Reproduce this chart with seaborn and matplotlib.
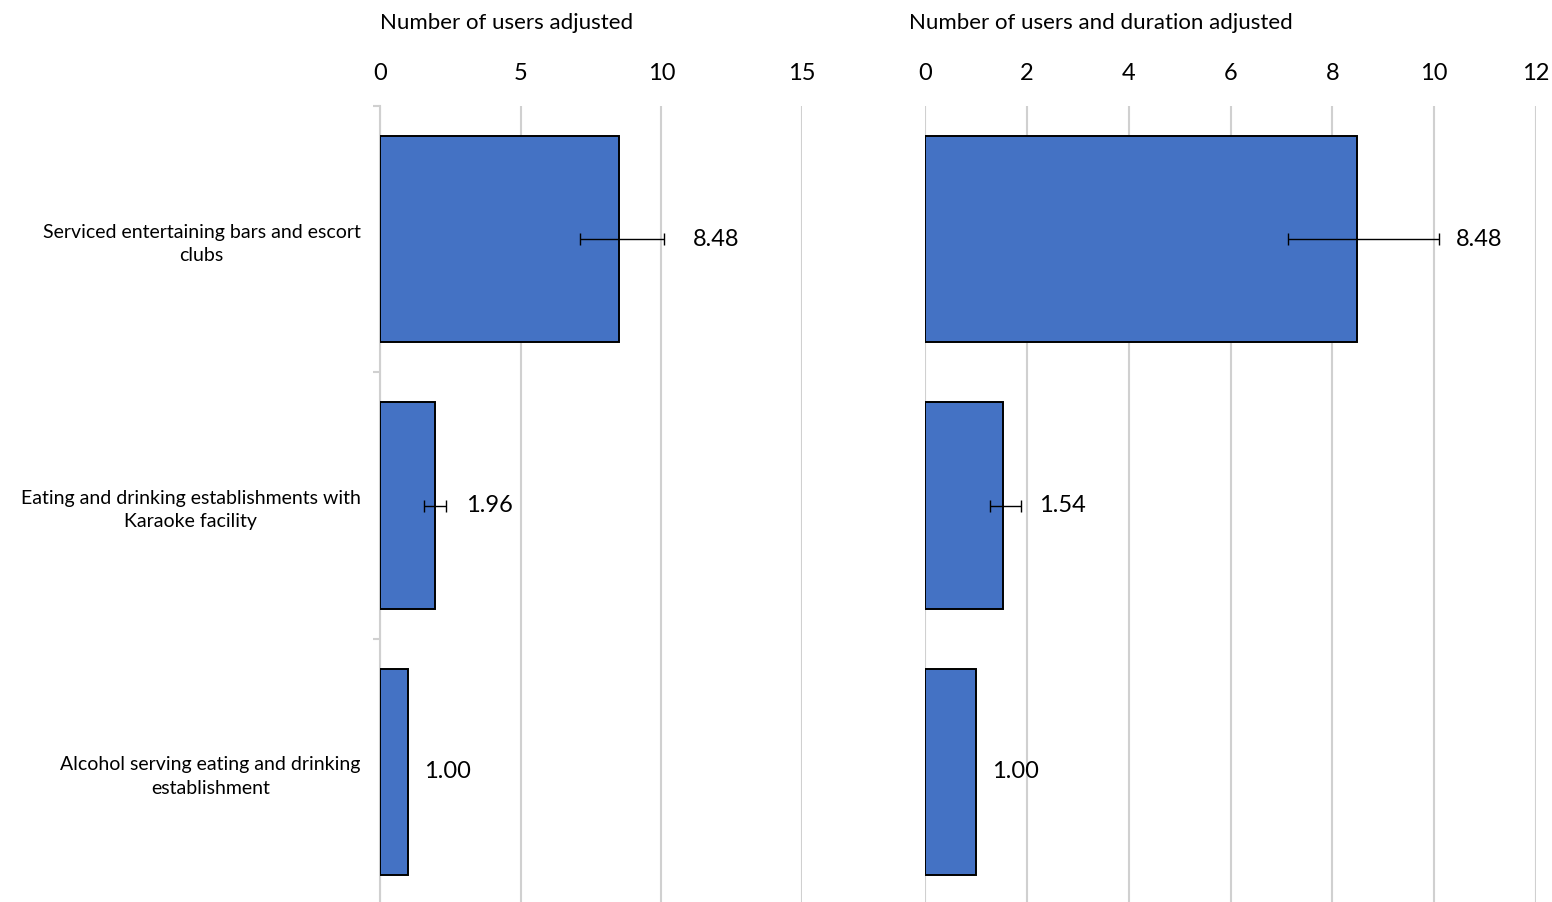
import matplotlib
matplotlib.use("Agg")
import matplotlib.pyplot as plt
import seaborn as sns
import numpy as np
import pandas as pd

# ---- data ----
categories = [
    "Serviced entertaining bars and escort\nclubs",
    "Eating and drinking establishments with\nKaraoke facility",
    "Alcohol serving eating and drinking\nestablishment",
]
users_adj = [8.48, 1.96, 1.00]
users_adj_lo = [7.10, 1.58, np.nan]
users_adj_hi = [10.08, 2.36, np.nan]

dur_adj = [8.48, 1.54, 1.00]
dur_adj_lo = [7.13, 1.27, np.nan]
dur_adj_hi = [10.10, 1.89, np.nan]

value_labels_left = ["8.48", "1.96", "1.00"]
value_labels_right = ["8.48", "1.54", "1.00"]

left_title = "Number of users adjusted"
right_title = "Number of users and duration adjusted"
left_ticks = [0, 5, 10, 15]
right_ticks = [0, 2, 4, 6, 8, 10, 12]

sns.set_theme(style="white")
plt.rcParams["font.family"] = ["Lato", "DejaVu Sans"]

W, H = 1552, 902
fig = plt.figure(figsize=(W / 100, H / 100), dpi=100)

BAR = "#4472C4"
GRID = "#d0d0d0"

top_px, bot_px = 106, 905
ax_b = 1 - bot_px / H
ax_h = (bot_px - top_px) / H

axL = fig.add_axes([380 / W, ax_b, (802 - 380) / W, ax_h])
axR = fig.add_axes([925 / W, ax_b, (1536 - 925) / W, ax_h])


def draw(ax, vals, lo, hi, labels, ticks, xmax, offsets_px, show_cats):
    df = pd.DataFrame({"cat": categories, "val": vals})
    sns.barplot(data=df, x="val", y="cat", orient="h", ax=ax, color=BAR,
                edgecolor="black", linewidth=1.4, width=0.775, errorbar=None,
                saturation=1, zorder=3)
    ypos = np.arange(len(vals))
    v = np.array(vals, float)
    l = np.array(lo, float)
    h = np.array(hi, float)
    m = ~np.isnan(l)
    ax.errorbar(v[m], ypos[m], xerr=[v[m] - l[m], h[m] - v[m]], fmt="none",
                ecolor="black", elinewidth=1.0, capsize=4, capthick=1.0, zorder=4)
    for i in range(len(vals)):
        xr = h[i] if not np.isnan(h[i]) else v[i]
        ax.annotate(labels[i], xy=(xr, ypos[i]), xytext=(offsets_px[i] * 0.72, 0),
                    textcoords="offset points", ha="left", va="center",
                    fontsize=17, color="black", zorder=5)
    ax.set_xlim(0, xmax)
    ax.set_ylim(2.5, -0.5)
    ax.xaxis.tick_top()
    ax.set_xticks(ticks)
    ax.set_xticklabels([str(t) for t in ticks])
    ax.tick_params(axis="x", length=0, pad=16, labelsize=17, labelcolor="black")
    ax.grid(axis="x", color=GRID, linewidth=1.5, zorder=0)
    ax.grid(axis="y", visible=False)
    for s in ax.spines.values():
        s.set_visible(False)
    ax.set_xlabel("")
    ax.set_ylabel("")
    if show_cats:
        ax.spines["left"].set_visible(True)
        ax.spines["left"].set_color(GRID)
        ax.spines["left"].set_linewidth(1.5)
        ax.set_yticks(ypos)
        ax.set_yticklabels(categories)
        for t in ax.get_yticklabels():
            t.set_multialignment("center")
            t.set_linespacing(1.45)
        ax.tick_params(axis="y", which="major", length=0, pad=14, labelsize=14,
                       labelcolor="black")
        ax.set_yticks([-0.5, 0.5, 1.5, 2.5], minor=True)
        ax.tick_params(axis="y", which="minor", length=5, width=1.5, color=GRID, left=True)
    else:
        ax.set_yticks([])
    ax.set_facecolor("white")


draw(axL, users_adj, users_adj_lo, users_adj_hi, value_labels_left, left_ticks, 15,
     [29, 20, 16], True)
draw(axR, dur_adj, dur_adj_lo, dur_adj_hi, value_labels_right, right_ticks, 12,
     [17, 18, 16], False)

fig.text(380 / W, 1 - 23 / H, left_title, ha="left", va="center", fontsize=16, color="black")
fig.text(909 / W, 1 - 23 / H, right_title, ha="left", va="center", fontsize=16, color="black")

fig.savefig("out.png", dpi=100, facecolor="white")
